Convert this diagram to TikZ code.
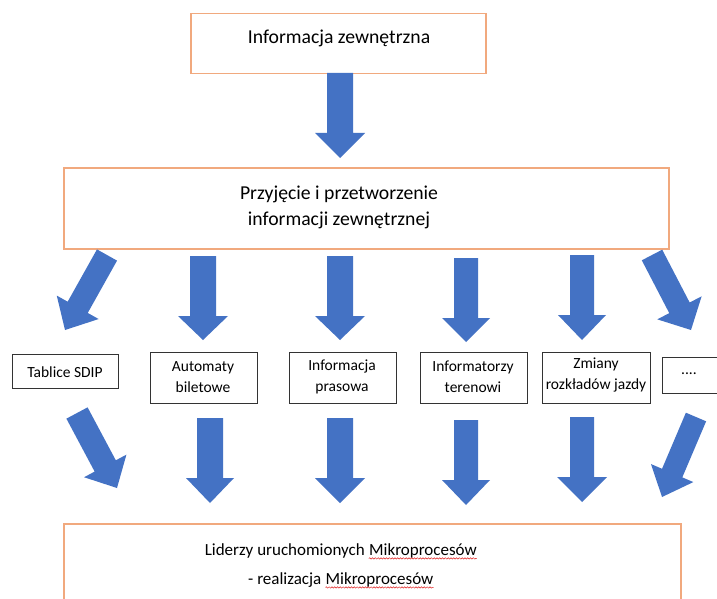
\documentclass[tikz,border=0pt]{standalone}
\usepackage{fontspec}
\setmainfont{Carlito}
\usetikzlibrary{calc,decorations.pathmorphing}
\definecolor{ablue}{HTML}{4472C4}
\definecolor{orb}{HTML}{F1A97E}
\definecolor{spellred}{HTML}{E02020}
\newcommand{\blockarr}[5]{% #1 start, #2 end, #3 half shaft, #4 half head, #5 head length
  \coordinate (tmpP) at ($(#2)!#5!(#1)$);
  \fill[ablue] ($(#1)!#3!90:(#2)$) -- ($(tmpP)!#3!90:(#2)$) -- ($(tmpP)!#4!90:(#2)$) -- (#2)
    -- ($(tmpP)!#4!-90:(#2)$) -- ($(tmpP)!#3!-90:(#2)$) -- ($(#1)!#3!-90:(#2)$) -- cycle;}
\newcommand{\spellwave}[1]{\tikz[baseline=(sw.base), x=1cm, y=1cm]{\node[inner sep=0pt, anchor=base] (sw) {#1};
  \draw[spellred, line width=0.5pt, decorate, decoration={snake, amplitude=0.7pt, segment length=2.8pt}]
    ([yshift=-3pt]sw.base west) -- ([yshift=-3pt]sw.base east);}}
\begin{document}
\begin{tikzpicture}[x=1pt,y=-1pt,
  obox/.style={draw=orb, line width=1.5pt, fill=white, inner sep=0pt, anchor=north west},
  sbox/.style={draw=black!80, line width=1pt, fill=white, inner sep=0pt, anchor=north west},
  bigtxt/.style={font=\fontsize{19.7}{26}\selectfont, align=center, inner sep=0pt},
  smalltxt/.style={font=\fontsize{15.5}{21}\selectfont, align=center, inner sep=0pt},
  bottxt/.style={font=\fontsize{17}{29}\selectfont, align=center, inner sep=0pt}]
\clip (0,0) rectangle (717,599);
\fill[white] (0,0) rectangle (717,599);

% boxes
\node[obox, minimum width=295pt, minimum height=60pt] (top) at (190,13) {};
\node[obox, minimum width=605pt, minimum height=81pt] (proc) at (63,167) {};
\node[sbox, minimum width=106pt, minimum height=34pt] (b1) at (12,354) {};
\node[sbox, minimum width=107pt, minimum height=51pt] (b2) at (150,352) {};
\node[sbox, minimum width=107pt, minimum height=51pt] (b3) at (289,352) {};
\node[sbox, minimum width=107pt, minimum height=51pt] (b4) at (420,352) {};
\node[sbox, minimum width=108pt, minimum height=51pt] (b5) at (542,352) {};
\node[sbox, minimum width=70pt, minimum height=36pt] (b6) at (662,357) {};
\node[obox, minimum width=617pt, minimum height=100pt] (bot) at (63,523) {};

% texts
\node[bigtxt] (ttop) at (339,38) {Informacja zewnętrzna};
\node[bigtxt] (tproc) at (339,207) {Przyjęcie i przetworzenie\\informacji zewnętrznej};
\node[smalltxt] (t1) at (65,372) {Tablice SDIP};
\node[smalltxt] (t2) at (203,377) {Automaty\\biletowe};
\node[smalltxt] (t3) at (342,377) {Informacja\\prasowa};
\node[smalltxt] (t4) at (473,377) {Informatorzy\\terenowi};
\node[smalltxt] (t5) at (596,375) {Zmiany\\rozkładów jazdy};
\node[smalltxt] (t6) at (689,374) {....};
\node[bottxt] (tbot) at (341,566) {Liderzy uruchomionych \spellwave{Mikroprocesów}\\- realizacja \spellwave{Mikroprocesów}};

% arrow end points
\coordinate (a0s) at (340,73);   \coordinate (a0e) at (340,158);
\coordinate (a1s) at (107,255);  \coordinate (a1e) at (65,330);
\coordinate (a2s) at (203,256);  \coordinate (a2e) at (203,340);
\coordinate (a3s) at (340,256);  \coordinate (a3e) at (340,340);
\coordinate (a4s) at (466,258);  \coordinate (a4e) at (466,342);
\coordinate (a5s) at (582,255);  \coordinate (a5e) at (582,340);
\coordinate (a6s) at (652,255);  \coordinate (a6e) at (691,330);
\coordinate (c1s) at (77,413);   \coordinate (c1e) at (117,488);
\coordinate (c2s) at (210,418);  \coordinate (c2e) at (210,503);
\coordinate (c3s) at (340,418);  \coordinate (c3e) at (340,503);
\coordinate (c4s) at (466,420);  \coordinate (c4e) at (466,505);
\coordinate (c5s) at (582,417);  \coordinate (c5e) at (582,502);
\coordinate (c6s) at (696,417);  \coordinate (c6e) at (662,497);

% block arrows
\blockarr{a0s}{a0e}{13pt}{25pt}{25pt}
\blockarr{a1s}{a1e}{11.5pt}{24pt}{26pt}
\blockarr{a2s}{a2e}{13pt}{25pt}{24pt}
\blockarr{a3s}{a3e}{13pt}{25pt}{24pt}
\blockarr{a4s}{a4e}{12pt}{24pt}{24pt}
\blockarr{a5s}{a5e}{12pt}{24pt}{25pt}
\blockarr{a6s}{a6e}{11.5pt}{25pt}{25pt}
\blockarr{c1s}{c1e}{12pt}{24pt}{25pt}
\blockarr{c2s}{c2e}{13pt}{24pt}{25pt}
\blockarr{c3s}{c3e}{13pt}{25pt}{25pt}
\blockarr{c4s}{c4e}{12pt}{24pt}{25pt}
\blockarr{c5s}{c5e}{12pt}{25pt}{25pt}
\blockarr{c6s}{c6e}{11pt}{23pt}{26pt}
\end{tikzpicture}
\end{document}
